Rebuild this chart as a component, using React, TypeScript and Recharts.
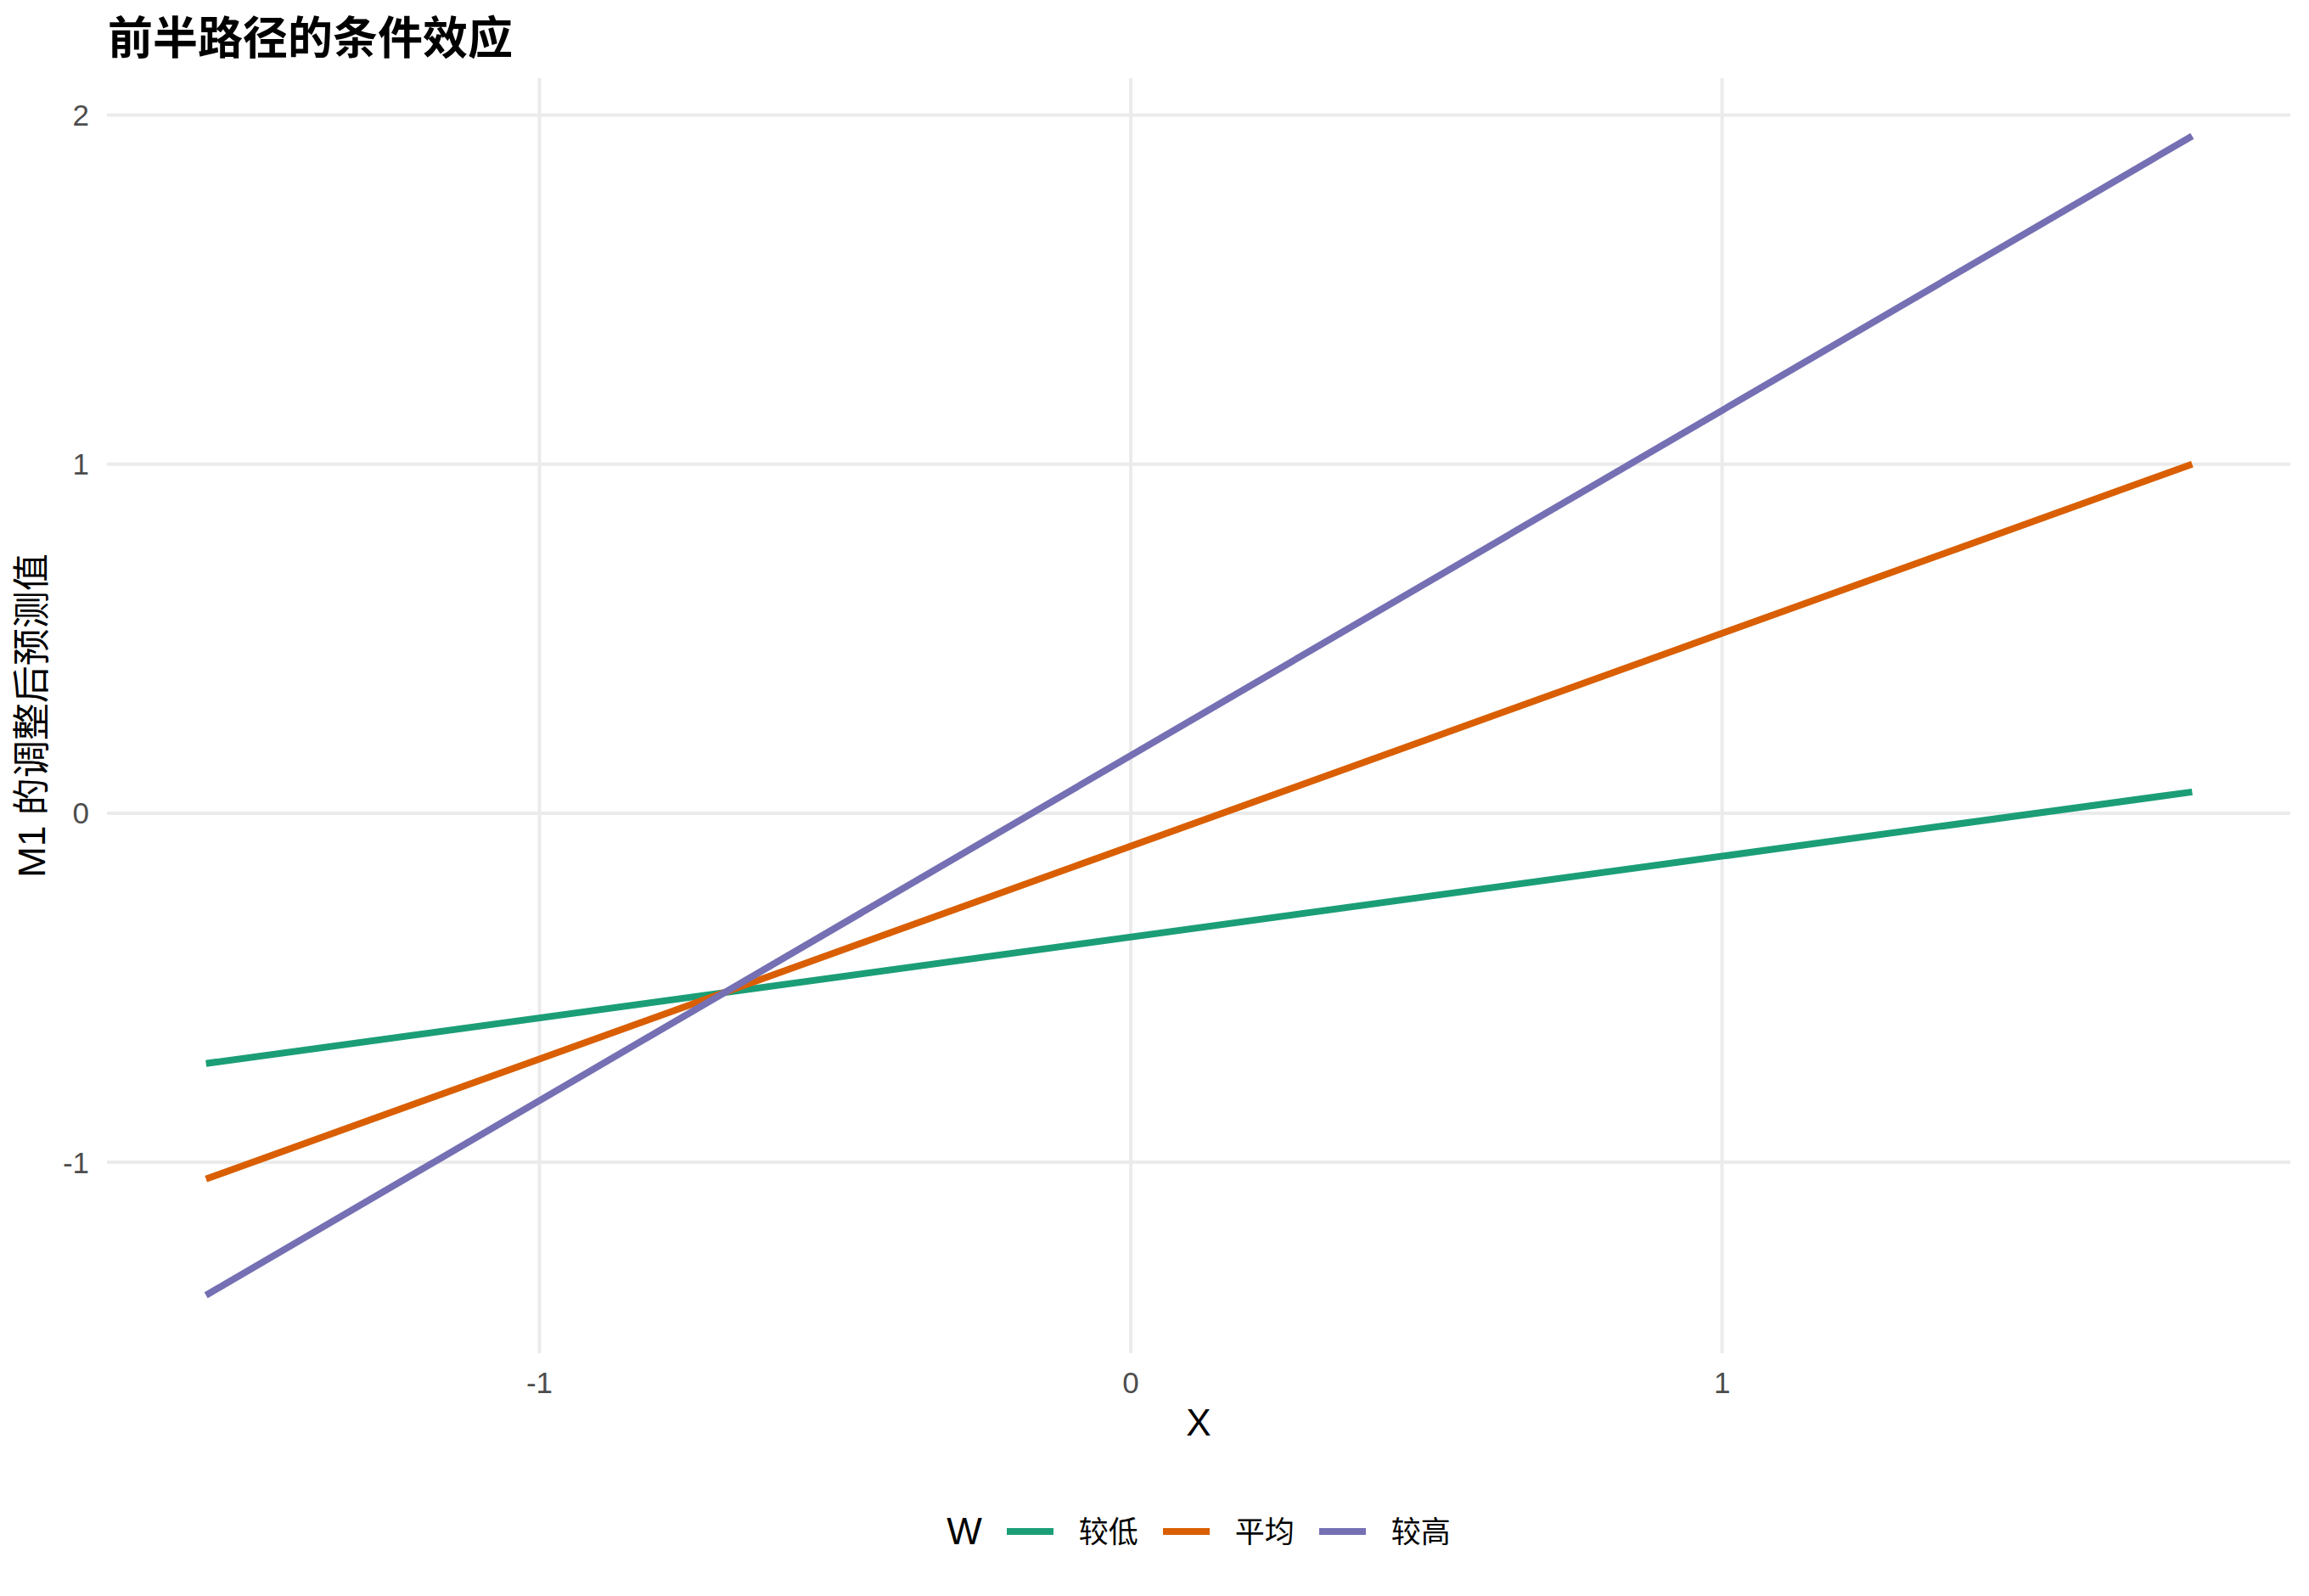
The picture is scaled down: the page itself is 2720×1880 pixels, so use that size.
import { CartesianGrid, Label, Line, LineChart, XAxis, YAxis } from "recharts";

// predicted M1 at the two ends of the X range, one list per level of W
const xValues = [-1.564, 1.795];
const lowW = [-0.717, 0.061];
const meanW = [-1.048, 1.0];
const highW = [-1.381, 1.94];

const seriesKeys = ["low", "mean", "high"];
const seriesNames = ["较低", "平均", "较高"];
const seriesColors = ["#1B9E77", "#D95F02", "#7570B3"];

const xTicks = [-1, 0, 1];
const yTicks = [-1, 0, 1, 2];
const xDomain = [-1.7315, 1.961];
const yDomain = [-1.547, 2.106];

const rows = xValues.map((x, i) => ({
  x,
  low: lowW[i],
  mean: meanW[i],
  high: highW[i],
}));

const latin = '"Liberation Sans", "Noto Sans CJK SC", sans-serif';
const tickStyle = { fill: "#4D4D4D", fontSize: 35, fontFamily: latin };

// grid only at the tick values (no panel border), mapped from the axis domains
const gridRows = ({ offset }: any) =>
  yTicks.map(
    (t) =>
      offset.top +
      ((yDomain[1] - t) / (yDomain[1] - yDomain[0])) * offset.height
  );
const gridCols = ({ offset }: any) =>
  xTicks.map(
    (t) =>
      offset.left +
      ((t - xDomain[0]) / (xDomain[1] - xDomain[0])) * offset.width
  );

function ChartLegend() {
  return (
    <div
      style={{
        position: "absolute",
        left: 126,
        width: 2572,
        top: 1771,
        height: 66,
        display: "flex",
        alignItems: "center",
        justifyContent: "center",
        fontFamily: latin,
        color: "#000",
      }}
    >
      <span style={{ fontSize: 44, lineHeight: 1, marginRight: 29 }}>W</span>
      {seriesNames.map((name, i) => (
        <span key={name} style={{ display: "flex", alignItems: "center" }}>
          <span
            style={{
              display: "inline-block",
              width: 55,
              height: 8,
              background: seriesColors[i],
              marginRight: 30,
            }}
          />
          <span
            style={{
              fontSize: 35,
              lineHeight: 1,
              marginRight: i < seriesNames.length - 1 ? 29 : 0,
            }}
          >
            {name}
          </span>
        </span>
      ))}
    </div>
  );
}

export default function App() {
  return (
    <div
      style={{
        position: "absolute",
        left: 0,
        top: 0,
        width: 2720,
        height: 1880,
        background: "#fff",
        overflow: "hidden",
      }}
    >
      <div
        style={{
          position: "absolute",
          left: 127,
          top: 15,
          fontSize: 53,
          lineHeight: 1,
          fontWeight: 700,
          fontFamily: '"Noto Sans CJK SC", sans-serif',
          color: "#000",
        }}
      >
        前半路径的条件效应
      </div>
      <LineChart
        width={2720}
        height={1880}
        data={rows}
        margin={{ top: 92, right: 22, bottom: 186, left: 0 }}
      >
        <CartesianGrid
          stroke="#EBEBEB"
          strokeWidth={4}
          horizontalCoordinatesGenerator={gridRows}
          verticalCoordinatesGenerator={gridCols}
        />
        <XAxis
          dataKey="x"
          type="number"
          domain={xDomain}
          ticks={xTicks}
          interval={0}
          height={100}
          axisLine={false}
          tickLine={false}
          tickSize={0}
          tickMargin={22}
          tick={tickStyle}
        >
          <Label
            value="X"
            position="insideBottom"
            offset={3}
            style={{ fontSize: 44, fontFamily: latin, fill: "#000" }}
          />
        </XAxis>
        <YAxis
          type="number"
          domain={yDomain}
          ticks={yTicks}
          interval={0}
          width={126}
          axisLine={false}
          tickLine={false}
          tickSize={0}
          tickMargin={21}
          tick={tickStyle}
        >
          <Label
            value="M1 的调整后预测值"
            position="insideLeft"
            angle={-90}
            offset={37}
            style={{
              fontSize: 44,
              fontFamily: latin,
              fill: "#000",
              textAnchor: "middle",
            }}
          />
        </YAxis>
        {seriesKeys.map((key, i) => (
          <Line
            key={key}
            type="linear"
            dataKey={key}
            name={seriesNames[i]}
            stroke={seriesColors[i]}
            strokeWidth={8}
            dot={false}
            activeDot={false}
            isAnimationActive={false}
          />
        ))}
      </LineChart>
      <ChartLegend />
    </div>
  );
}
